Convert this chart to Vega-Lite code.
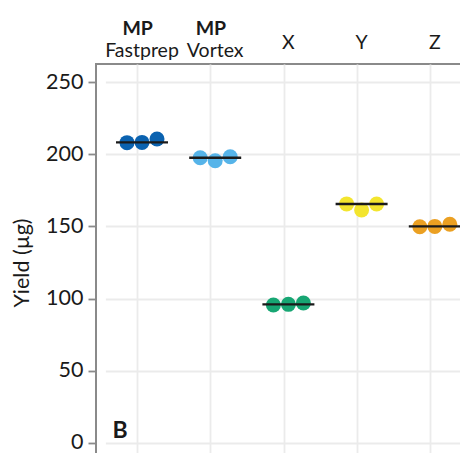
{
  "$schema": "https://vega.github.io/schema/vega-lite/v6.json",
  "width": 380,
  "height": 397,
  "autosize": {"type": "none"},
  "padding": {"left": 96, "top": 64, "right": -16, "bottom": -8},
  "background": "white",
  "config": {"font": "Lato", "view": {"stroke": "#8a8a8a", "strokeWidth": 2}},
  "data": {"values": [
    {"group": "MP Fastprep", "rep": 1, "yield": 208.0},
    {"group": "MP Fastprep", "rep": 2, "yield": 208.2},
    {"group": "MP Fastprep", "rep": 3, "yield": 210.5},
    {"group": "MP Vortex", "rep": 1, "yield": 197.6},
    {"group": "MP Vortex", "rep": 2, "yield": 195.5},
    {"group": "MP Vortex", "rep": 3, "yield": 198.3},
    {"group": "X", "rep": 1, "yield": 95.6},
    {"group": "X", "rep": 2, "yield": 96.0},
    {"group": "X", "rep": 3, "yield": 96.9},
    {"group": "Y", "rep": 1, "yield": 165.6},
    {"group": "Y", "rep": 2, "yield": 161.4},
    {"group": "Y", "rep": 3, "yield": 165.5},
    {"group": "Z", "rep": 1, "yield": 149.8},
    {"group": "Z", "rep": 2, "yield": 150.0},
    {"group": "Z", "rep": 3, "yield": 151.5}
  ]},
  "layer": [
    {
      "mark": {"type": "point", "filled": true, "size": 225, "opacity": 1},
      "encoding": {
        "x": {
          "field": "group", "type": "nominal",
          "scale": {"range": [9.4, 375.4], "paddingInner": 0, "paddingOuter": 0},
          "axis": {
            "orient": "top", "title": null, "ticks": false, "domain": false,
            "grid": true, "gridColor": "#ebebeb", "gridWidth": 1.8,
            "bandPosition": 0.441, "labelAngle": 0, "labelFontSize": 19.5,
            "labelColor": "#1a1a1a", "labelBaseline": "alphabetic",
            "labelExpr": "replace(datum.value, 'MP ', '')",
            "labelPadding": {"condition": {"test": "indexof(datum.value, 'MP') == 0", "value": 8}, "value": 16}
          }
        },
        "xOffset": {"field": "rep", "type": "nominal", "scale": {"range": [21.6, 51.6], "padding": 0}},
        "y": {
          "field": "yield", "type": "quantitative",
          "scale": {"domain": [-12.5, 262.5], "nice": false, "zero": false},
          "axis": {
            "title": "Yield (µg)",
            "values": [0, 25, 50, 75, 100, 125, 150, 175, 200, 225, 250],
            "labelExpr": "datum.value % 50 == 0 ? datum.label : ''",
            "tickOpacity": {"condition": {"test": "datum.value % 50 != 0", "value": 0}, "value": 1},
            "tickSize": 8, "tickWidth": 1.8, "tickColor": "#8a8a8a",
            "domain": false, "grid": true, "gridColor": "#ebebeb", "gridWidth": 1.8,
            "labelFontSize": 21.5, "labelColor": "#1a1a1a", "labelPadding": 5,
            "titleFontSize": 21.5, "titleFontWeight": "normal", "titleColor": "#1a1a1a", "titlePadding": 12
          }
        },
        "color": {
          "field": "group", "type": "nominal",
          "scale": {"domain": ["MP Fastprep", "MP Vortex", "X", "Y", "Z"], "range": ["#0a62b0", "#56b4e9", "#17a673", "#f3e52e", "#eba022"]},
          "legend": null
        }
      }
    },
    {
      "mark": {"type": "tick", "color": "#1a1a1a", "thickness": 2.4, "size": 52},
      "encoding": {
        "x": {"field": "group", "type": "nominal"},
        "y": {"aggregate": "median", "field": "yield", "type": "quantitative"}
      }
    },
    {
      "data": {"values": [{"group": "MP Fastprep", "line1": "MP"}, {"group": "MP Vortex", "line1": "MP"}]},
      "mark": {"type": "text", "fontWeight": "bold", "fontSize": 19.5, "baseline": "alphabetic", "align": "center", "color": "#1a1a1a"},
      "encoding": {
        "x": {"field": "group", "type": "nominal", "bandPosition": 0.441},
        "y": {"datum": 282.9, "type": "quantitative"},
        "text": {"field": "line1"}
      }
    },
    {
      "data": {"values": [{"panel": "B"}]},
      "mark": {"type": "text", "fontWeight": "bold", "fontSize": 23, "baseline": "alphabetic", "align": "left", "dx": 7, "color": "#1a1a1a"},
      "encoding": {
        "x": {"datum": "MP Fastprep", "bandPosition": 0},
        "y": {"datum": 3.5, "type": "quantitative"},
        "text": {"field": "panel"}
      }
    }
  ]
}
